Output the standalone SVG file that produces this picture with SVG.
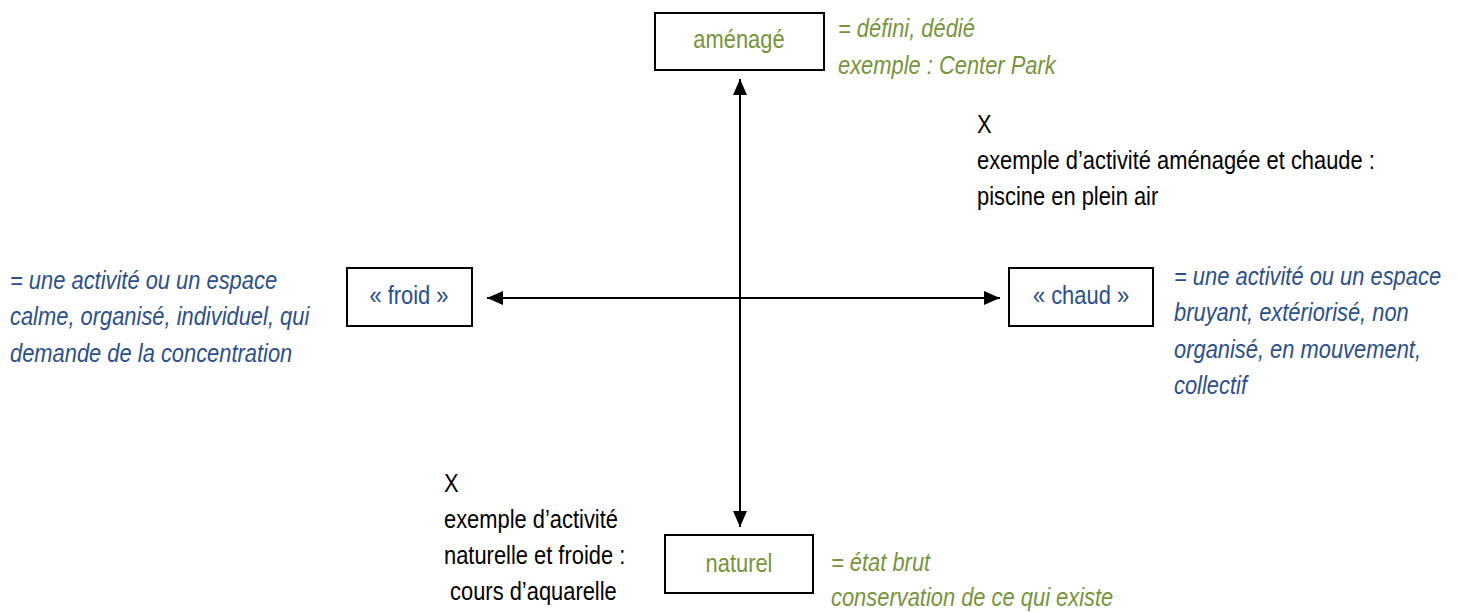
<svg xmlns="http://www.w3.org/2000/svg" width="1457" height="612" viewBox="0 0 1457 612">
<defs>
<style>
text{font-family:"Liberation Sans",Arial,sans-serif;font-size:26.7px}
.g{fill:#77933C}
.b{fill:#2B4F8A}
.k{fill:#000}
.i{font-style:italic}
.c{text-anchor:middle}
.box{fill:#fff;stroke:#000;stroke-width:2}
.ax{stroke:#000;stroke-width:2;fill:none}
</style>
<marker id="ah" viewBox="0 0 16 14" refX="16" refY="7" markerWidth="16" markerHeight="14" markerUnits="userSpaceOnUse" orient="auto-start-reverse">
<path d="M0,0 L16,7 L0,14 Z" fill="#000"/>
</marker>
</defs>
<rect width="1457" height="612" fill="#fff"/>
<g id="connectors">
<line class="ax" x1="740" y1="79" x2="740" y2="527" marker-start="url(#ah)" marker-end="url(#ah)"/>
<line class="ax" x1="487" y1="298" x2="1000" y2="298" marker-start="url(#ah)" marker-end="url(#ah)"/>
</g>
<g id="amenage">
<rect class="box" x="655" y="13" width="169" height="57"/>
<text class="g c" transform="translate(739 48) scale(0.82 1)">aménagé</text>
<text class="g i" transform="translate(838 37) scale(0.82 1)"><tspan x="0" y="0">= défini, dédié</tspan><tspan x="0" y="37">exemple : Center Park</tspan></text>
</g>
<g id="froid">
<rect class="box" x="347" y="268" width="125" height="58"/>
<text class="b c" transform="translate(409 304) scale(0.82 1)">« froid »</text>
<text class="b i" transform="translate(10 289) scale(0.82 1)"><tspan x="0" y="0">= une activité ou un espace</tspan><tspan x="0" y="36.5">calme, organisé, individuel, qui</tspan><tspan x="0" y="73">demande de la concentration</tspan></text>
</g>
<g id="chaud">
<rect class="box" x="1009" y="268" width="144" height="58"/>
<text class="b c" transform="translate(1081 304) scale(0.82 1)">« chaud »</text>
<text class="b i" transform="translate(1174 285) scale(0.82 1)"><tspan x="0" y="0">= une activité ou un espace</tspan><tspan x="0" y="36.5">bruyant, extériorisé, non</tspan><tspan x="0" y="73">organisé, en mouvement,</tspan><tspan x="0" y="109.5">collectif</tspan></text>
</g>
<g id="naturel">
<rect class="box" x="665" y="535" width="148" height="58"/>
<text class="g c" transform="translate(739 572) scale(0.82 1)">naturel</text>
<text class="g i" transform="translate(831 571) scale(0.82 1)"><tspan x="0" y="0">= état brut</tspan><tspan x="0" y="35.5">conservation de ce qui existe</tspan></text>
</g>
<g id="example-hot">
<text class="k" transform="translate(977 133) scale(0.82 1)"><tspan x="0" y="0">X</tspan><tspan x="0" y="36">exemple d’activité aménagée et chaude :</tspan><tspan x="0" y="72">piscine en plein air</tspan></text>
</g>
<g id="example-cold">
<text class="k" transform="translate(444 492) scale(0.82 1)"><tspan x="0" y="0">X</tspan><tspan x="0" y="36">exemple d’activité</tspan><tspan x="0" y="72">naturelle et froide :</tspan><tspan x="0" y="108"> cours d’aquarelle</tspan></text>
</g>
</svg>
